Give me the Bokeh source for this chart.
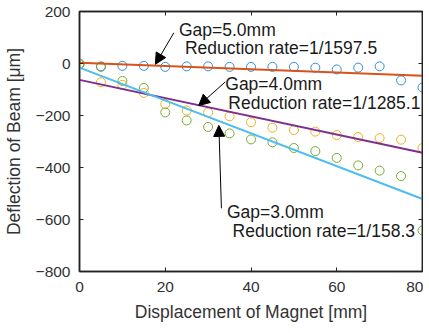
from bokeh.plotting import figure
from bokeh.models import Range1d, Label, Arrow, NormalHead, FixedTicker, LinearAxis
from bokeh.embed import file_html
from bokeh.resources import INLINE

# Data
disp = [0, 5, 10, 15, 20, 25, 30, 35, 40, 45, 50, 55, 60, 65, 70, 75, 80]
gap5 = [0, -11, -9, -9, -13, -11, -11, -13, -13, -13, -13, -16, -23, -16, -11, -65, -92]
gap4 = [-2, -72, -82, -113, -156, -181, -188, -203, -226, -247, -256, -262, -275, -283, -287, -293, -325]
gap3 = [-3, -13, -67, -94, -188, -219, -244, -269, -292, -303, -325, -337, -363, -392, -412, -433, -642]
fit_x = [0, 80]
fit5 = [3, -47]
fit4 = [-63, -343]
fit3 = [-16, -521]
x_ticks = [0, 20, 40, 60, 80]
y_ticks = [-800, -600, -400, -200, 0, 200]

FONT = "Liberation Sans"
TXT = "#1a1a1a"
AX = "#222222"

p = figure(width=413, height=317, output_backend="svg", toolbar_location=None,
           x_range=Range1d(0, 80), y_range=Range1d(-800, 200),
           min_border_left=69, min_border_right=1, min_border_top=11, min_border_bottom=46)
p.frame_width = 343
p.frame_height = 260
p.grid.visible = False
p.outline_line_color = AX
p.outline_line_width = 1.5
p.background_fill_color = "white"

for ax in (p.xaxis[0], p.yaxis[0]):
    ax.major_label_text_font = FONT
    ax.major_label_text_font_size = "15.5px"
    ax.major_label_text_color = "#333333"
    ax.axis_label_text_font = FONT
    ax.axis_label_text_font_size = "17.5px"
    ax.axis_label_text_font_style = "normal"
    ax.axis_label_text_color = "#333333"
    ax.axis_line_color = AX
    ax.axis_line_width = 1.5
    ax.major_tick_line_color = AX
    ax.major_tick_in = 4
    ax.major_tick_out = 0
    ax.minor_tick_line_color = None

p.xaxis[0].ticker = FixedTicker(ticks=x_ticks)
p.yaxis[0].ticker = FixedTicker(ticks=y_ticks)
p.xaxis[0].axis_label = "Displacement of Magnet [mm]"
p.yaxis[0].axis_label = "Deflection of Beam [μm]"
p.xaxis[0].major_label_standoff = 10
p.xaxis[0].axis_label_standoff = 7
p.yaxis[0].major_label_standoff = 9
p.yaxis[0].axis_label_standoff = 9

# inward ticks on top and right (no labels)
for loc, ticks in (("above", x_ticks), ("right", y_ticks)):
    ax = LinearAxis(ticker=FixedTicker(ticks=ticks), major_label_text_font_size="0px",
                    major_label_standoff=0, major_tick_in=4, major_tick_out=0,
                    minor_tick_line_color=None, axis_line_color=AX, axis_line_width=1.5,
                    major_tick_line_color=AX)
    ax.major_label_overrides = {t: "" for t in ticks}
    p.add_layout(ax, loc)

# scatter points
p.scatter(disp, gap5, marker="circle", size=9, fill_color=None, line_color="#2f8fd6", line_width=1)
p.scatter(disp, gap4, marker="circle", size=9, fill_color=None, line_color="#EDB120", line_width=1)
p.scatter(disp, gap3, marker="circle", size=9, fill_color=None, line_color="#77AC30", line_width=1)

# fitted lines
p.line(fit_x, fit5, line_color="#D95319", line_width=2)
p.line(fit_x, fit4, line_color="#7E2F8E", line_width=2)
p.line(fit_x, fit3, line_color="#4DBEEE", line_width=2)

# annotations
def label(x, y, t):
    p.add_layout(Label(x=x, y=y, text=t, text_font=FONT, text_font_size="17.5px",
                       text_color=TXT, text_baseline="middle", text_align="left"))

label(23.2, 130, "Gap=5.0mm")
label(24.6, 58, "Reduction rate=1/1597.5")
label(34.0, -77, "Gap=4.0mm")
label(34.7, -150, "Reduction rate=1/1285.1")
label(34.4, -570, "Gap=3.0mm")
label(35.7, -645, "Reduction rate=1/158.3")

def arrow(x0, y0, x1, y1):
    p.add_layout(Arrow(x_start=x0, y_start=y0, x_end=x1, y_end=y1,
                       line_color="black", line_width=1,
                       end=NormalHead(size=11, fill_color="black", line_color="black")))

arrow(22.0, 118, 17.7, -3)
arrow(34.0, -71, 27.8, -162)
arrow(33.1, -557, 32.5, -238)

open("out.html", "w").write(file_html(p, INLINE))
